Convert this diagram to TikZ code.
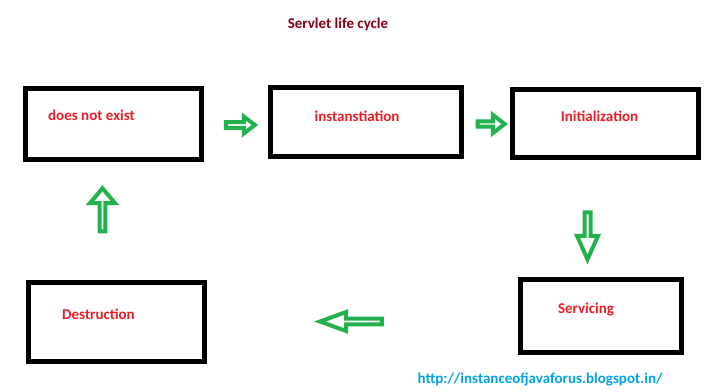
\documentclass[tikz,border=0pt]{standalone}
\usepackage{fontspec}
\setmainfont{Carlito}
\usetikzlibrary{shapes.arrows}
\definecolor{boxtext}{RGB}{237,28,36}
\definecolor{titlered}{RGB}{136,0,21}
\definecolor{urlblue}{RGB}{0,162,232}
\definecolor{arrowgreen}{RGB}{34,177,76}

\begin{document}
\begin{tikzpicture}[x=1pt,y=-1pt,font=\bfseries\fontsize{15}{18}\selectfont,
 box/.style={draw=black,line width=5pt,inner sep=0pt},
 lab/.style={text=boxtext,anchor=base,inner sep=0pt},
 blockarrow/.style={single arrow,draw=arrowgreen,line width=4pt,fill=white,
  inner sep=0pt,single arrow head indent=0pt}]
\useasboundingbox (0,0) rectangle (708,391);
\node[anchor=base,text=titlered,inner sep=0pt] (title) at (338,28) {Servlet life cycle};
% boxes of the cycle
\node[box,minimum width=176pt,minimum height=71pt] (dne) at (113.5,124) {};
\node[box,minimum width=191pt,minimum height=69pt] (inst) at (366,122) {};
\node[box,minimum width=186pt,minimum height=68pt] (init) at (605.5,123.5) {};
\node[box,minimum width=161pt,minimum height=73pt] (serv) at (601,316) {};
\node[box,minimum width=176pt,minimum height=79pt] (dest) at (116.5,322) {};
\node[lab] (dnetext) at (91.5,120) {does not exist};
\node[lab] (insttext) at (357,121) {instanstiation};
\node[lab] (inittext) at (599.5,121) {Initialization};
\node[lab] (servtext) at (586,313) {Servicing};
\node[lab] (desttext) at (98.5,319) {Destruction};
% hollow block arrows
\node[blockarrow,minimum height=29pt,minimum width=17pt,single arrow head extend=4pt,
 single arrow tip angle=75] (dne2inst) at (238.5,125) {};
\node[blockarrow,minimum height=27pt,minimum width=18pt,single arrow head extend=5pt,
 single arrow tip angle=75] (inst2init) at (489.5,124) {};
\node[blockarrow,shape border rotate=270,minimum height=47pt,minimum width=21pt,
 single arrow head extend=5pt,single arrow tip angle=48] (init2serv) at (587.5,232.5) {};
\node[blockarrow,shape border rotate=180,minimum height=62pt,minimum width=19pt,
 single arrow head extend=4.5pt,single arrow tip angle=40] (serv2dest) at (355,321.5) {};
\node[blockarrow,shape border rotate=90,minimum height=43pt,minimum width=25pt,
 single arrow head extend=6.5pt,single arrow tip angle=80] (dest2dne) at (102.5,211.5) {};
\node[anchor=base,text=urlblue,inner sep=0pt] (url) at (540,383) {http://instanceofjavaforus.blogspot.in/};
\end{tikzpicture}
\end{document}
